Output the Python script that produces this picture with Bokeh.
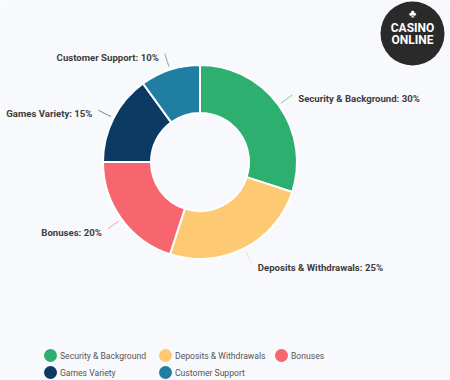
import numpy as np
from bokeh.plotting import figure
from bokeh.models import Range1d, ColumnDataSource
from bokeh.embed import file_html
from bokeh.resources import INLINE
from bokeh.core.properties import value

categories = ["Security & Background", "Deposits & Withdrawals", "Bonuses",
              "Games Variety", "Customer Support"]
shares = [30, 25, 20, 15, 10]
colors = ["#2daf6f", "#fdc973", "#f7666e", "#0c3a63", "#1f7ea1"]

legend_rows = [0, 0, 0, 1, 1]
legend_cols = [0, 1, 2, 0, 1]

W, H = 450, 380
BG = "#f8f9fc"
FONT = value("Roboto")

p = figure(width=W, height=H, x_range=Range1d(0, W), y_range=Range1d(0, H),
           output_backend="svg", toolbar_location=None, min_border=0,
           x_axis_location=None, y_axis_location=None)
p.grid.visible = False
p.outline_line_color = None
p.background_fill_color = BG
p.border_fill_color = BG

cx, cy = 199.5, 218.5
r_out, r_in = 97, 49

vals = np.array(shares, dtype=float)
frac = vals / vals.sum()
cum = np.cumsum(frac)
starts = np.pi / 2 - 2 * np.pi * (cum - frac)
ends = np.pi / 2 - 2 * np.pi * cum
mids = (starts + ends) / 2

src = ColumnDataSource(dict(start=starts, end=ends, color=colors, name=categories))
p.annular_wedge(x=cx, y=cy, inner_radius=r_in, outer_radius=r_out,
                start_angle="start", end_angle="end", direction="clock",
                fill_color="color", line_color="white", line_width=2, source=src)

# leader lines and labels
r1, r2 = 100, 114
cosm, sinm = np.cos(mids), np.sin(mids)
xs = [[cx + r1 * c, cx + r2 * c] for c in cosm]
ys = [[cy + r1 * s, cy + r2 * s] for s in sinm]
p.multi_line(xs=xs, ys=ys, line_color=colors, line_width=1, line_alpha=0.6)

lab_x = cx + r2 * cosm + np.where(cosm > 0, 6, -6)
lab_y = cy + r2 * sinm - 3.5
lab_align = ["left" if c > 0 else "right" for c in cosm]
lab_text = [f"{n}: {v}%" for n, v in zip(categories, shares)]
p.text(x=lab_x, y=lab_y, text=lab_text, text_align=lab_align,
       text_baseline="middle", text_font=FONT, text_font_style="bold",
       text_font_size="9.6px", text_color="#3d3d3d")

# legend
col_x = [50, 165, 281]
row_y = [25, 8]
lx = np.array([col_x[c] for c in legend_cols], dtype=float)
ly = np.array([row_y[r] for r in legend_rows], dtype=float)
p.scatter(x=lx, y=ly, size=13, marker="circle", fill_color=colors, line_color=None)
p.text(x=lx + 9.5, y=ly, text=categories, text_align="left", text_baseline="middle",
       text_font=FONT, text_font_size="8.6px", text_color="#555555")

# logo watermark
p.scatter(x=[412], y=[347], size=64, marker="circle", fill_color="#2a2a2a", line_color=None)
p.text(x=[412, 412, 412], y=[367, 353, 341], text=["\u2663", "CASINO", "ONLINE"],
       text_align="center", text_baseline="middle", text_font=FONT,
       text_font_style="bold", text_font_size=["11px", "12px", "12px"],
       text_color="white")

open("out.html", "w").write(file_html(p, INLINE))
